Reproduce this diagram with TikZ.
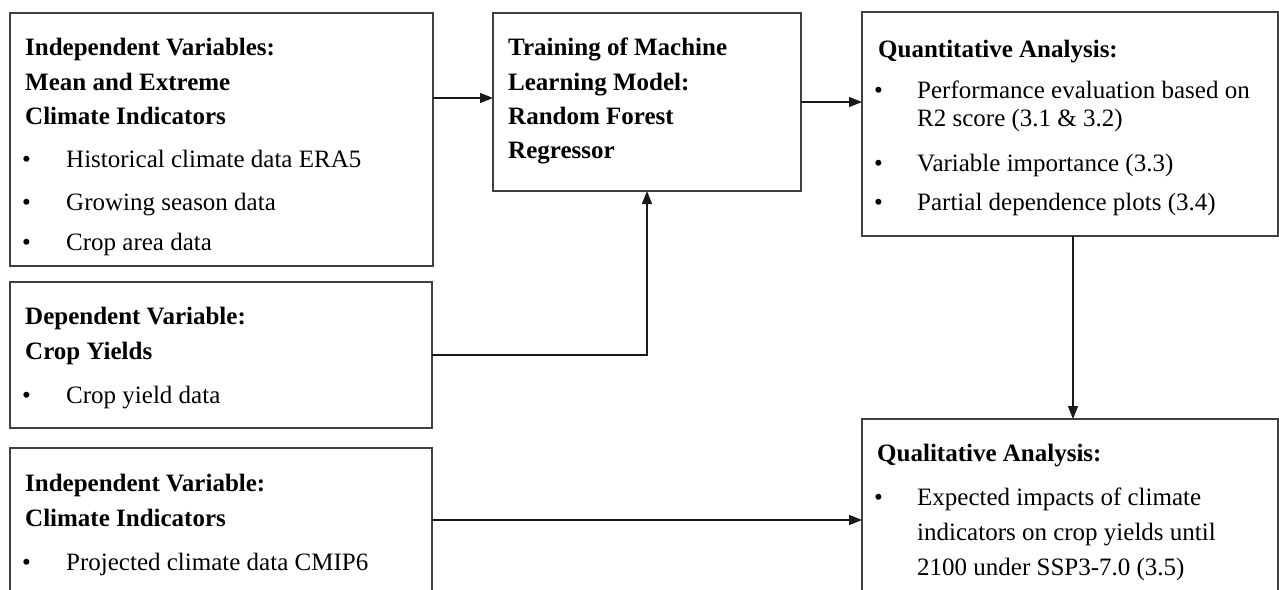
\documentclass[tikz,border=0pt]{standalone}
\usepackage{fontspec}
\setmainfont{Liberation Serif}
\usetikzlibrary{arrows.meta}
\begin{document}
\begin{tikzpicture}[x=1pt,y=-1pt,
  box/.style={draw=black!75,line width=1.3pt,rectangle,inner sep=0pt,outer sep=0pt},
  hd/.style={anchor=base west,inner sep=0pt,font=\fontsize{25}{30}\selectfont\bfseries},
  tx/.style={anchor=base west,inner sep=0pt,font=\fontsize{25}{30}\selectfont},
  arr/.style={draw=black!90,line width=1.3pt,-{Triangle[length=13pt,width=10pt]}},
  ln/.style={draw=black!85,line width=1.3pt}]
\useasboundingbox (0,0) rectangle (1279,589);
\clip (0,0) rectangle (1279,589);
% boxes
\node[box,minimum width=423pt,minimum height=253pt] (A) at (221.5,139.5) {};
\node[box,minimum width=422pt,minimum height=146pt] (B) at (221,355) {};
\node[box,minimum width=422pt,minimum height=160pt] (C) at (221,528) {};
\node[box,minimum width=308pt,minimum height=178pt] (D) at (647,102) {};
\node[box,minimum width=416pt,minimum height=224pt] (E) at (1070,124) {};
\node[box,minimum width=416pt,minimum height=190pt] (F) at (1070,514) {};
% box A text
\node[hd] (a1) at (25,55) {Independent Variables:};
\node[hd] (a2) at (25,90) {Mean and Extreme};
\node[hd] (a3) at (25,124) {Climate Indicators};
\node[tx] (ab1) at (22,167) {•};
\node[tx] (a4) at (66,167) {Historical climate data ERA5};
\node[tx] (ab2) at (22,210) {•};
\node[tx] (a5) at (66,210) {Growing season data};
\node[tx] (ab3) at (22,250) {•};
\node[tx] (a6) at (66,250) {Crop area data};
% box B text
\node[hd] (b1) at (25,324) {Dependent Variable:};
\node[hd] (b2) at (25,359) {Crop Yields};
\node[tx] (bb1) at (22,403) {•};
\node[tx] (b3) at (66,403) {Crop yield data};
% box C text
\node[hd] (c1) at (25,491) {Independent Variable:};
\node[hd] (c2) at (25,526) {Climate Indicators};
\node[tx] (cb1) at (22,570) {•};
\node[tx] (c3) at (66,570) {Projected climate data CMIP6};
% box D text
\node[hd] (d1) at (508,55) {Training of Machine};
\node[hd] (d2) at (508,90) {Learning Model:};
\node[hd] (d3) at (508,124) {Random Forest};
\node[hd] (d4) at (508,158) {Regressor};
% box E text
\node[hd] (e1) at (878,57) {Quantitative Analysis:};
\node[tx] (eb1) at (874,98) {•};
\node[tx] (e2) at (917,98) {Performance evaluation based on};
\node[tx] (e3) at (917,126) {R2 score (3.1 \& 3.2)};
\node[tx] (eb2) at (874,171) {•};
\node[tx] (e4) at (917,171) {Variable importance (3.3)};
\node[tx] (eb3) at (874,210) {•};
\node[tx] (e5) at (917,210) {Partial dependence plots (3.4)};
% box F text
\node[hd] (f1) at (877,461) {Qualitative Analysis:};
\node[tx] (fb1) at (874,505) {•};
\node[tx] (f2) at (917,505) {Expected impacts of climate};
\node[tx] (f3) at (917,540) {indicators on crop yields until};
\node[tx] (f4) at (917,575) {2100 under SSP3-7.0 (3.5)};
% connectors
\draw[arr] (A.east |- 0,98) -- (D.west |- 0,98);
\draw[arr] (D.east |- 0,102) -- (E.west |- 0,102);
\draw[arr] (B.east) -| (D.south);
\draw[arr] ([xshift=3pt]E.south) -- ([xshift=3pt]F.north);
\draw[arr] (C.east |- 0,520) -- (F.west |- 0,520);
\end{tikzpicture}
\end{document}
